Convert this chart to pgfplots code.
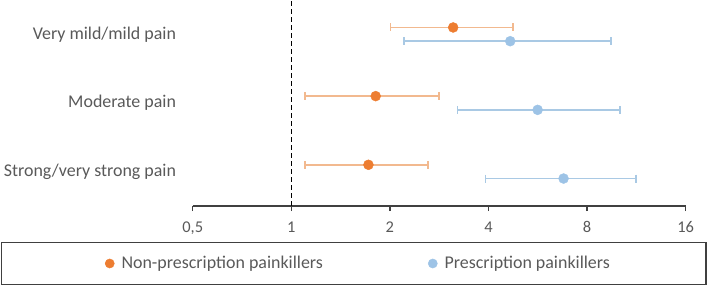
\documentclass[border=0pt]{standalone}
\usepackage{fontspec}
\setmainfont{Carlito}
\usepackage{pgfplots}
\pgfplotsset{compat=1.18}
\definecolor{orgM}{HTML}{ED7D31}
\definecolor{orgE}{HTML}{F2B98F}
\definecolor{bluM}{HTML}{9DC3E6}
\definecolor{bluE}{HTML}{A9C9E4}
\definecolor{txt}{HTML}{595959}
\definecolor{axc}{HTML}{404040}
\begin{document}
\begin{tikzpicture}
\useasboundingbox (0,0) rectangle (708bp,286bp);
\draw[axc, line width=1.3bp] (1.5bp,1.5bp) rectangle (706bp,43.3bp);
\begin{axis}[
  at={(192.7bp,80bp)}, anchor=south west,
  scale only axis, width=493bp, height=206bp,
  xmode=log, log basis x=2,
  xmin=0.5, xmax=16, ymin=0.5, ymax=3.5,
  xtick={0.5,1,2,4,8,16},
  xticklabels={{0,5},1,2,4,8,16},
  ytick={1,2,3},
  yticklabels={Strong/very strong pain, Moderate pain, Very mild/mild pain},
  axis x line*=bottom, axis y line*=left,
  y axis line style={draw=none}, ytick style={draw=none},
  x axis line style={axc, line width=1.3bp, -},
  xtick style={axc, line width=1.3bp},
  xtick align=outside, major tick length=5bp,
  minor tick num=0,
  clip=false,
  tick label style={text=txt},
  xticklabel style={font=\fontsize{16.5}{18}\selectfont, yshift=-7bp},
  yticklabel style={font=\fontsize{18}{20}\selectfont, anchor=east, inner sep=0pt, xshift=-16.5bp},
  legend columns=2,
  legend cell align=left,
  legend style={at={(-0.1845,-0.2791)}, anchor=west, draw=none, fill=none,
    font=\fontsize{18}{20}\selectfont, text=txt, column sep=5bp,
    /tikz/every even column/.append style={column sep=103bp}},
]
% reference line
\addplot[black, line width=1.2bp, dash pattern=on 5bp off 3bp, forget plot] coordinates {(1,0.5) (1,3.5)};
% confidence intervals, non-prescription
\addplot[orgE, line width=1.6bp, mark=|, mark size=4bp, forget plot] coordinates {(2.01,3.1) (4.75,3.1)};
\addplot[orgE, line width=1.6bp, mark=|, mark size=4bp, forget plot] coordinates {(1.10,2.1) (2.82,2.1)};
\addplot[orgE, line width=1.6bp, mark=|, mark size=4bp, forget plot] coordinates {(1.10,1.1) (2.61,1.1)};
% confidence intervals, prescription
\addplot[bluE, line width=1.6bp, mark=|, mark size=4bp, forget plot] coordinates {(2.21,2.9) (9.48,2.9)};
\addplot[bluE, line width=1.6bp, mark=|, mark size=4bp, forget plot] coordinates {(3.22,1.9) (10.1,1.9)};
\addplot[bluE, line width=1.6bp, mark=|, mark size=4bp, forget plot] coordinates {(3.92,0.9) (11.3,0.9)};
% point estimates
\addplot[only marks, mark=*, mark size=5bp, mark options={draw=orgM, fill=orgM}, forget plot] coordinates {(3.12,3.1) (1.81,2.1) (1.72,1.1)};
\addplot[only marks, mark=*, mark size=5bp, mark options={draw=bluM, fill=bluM}, forget plot] coordinates {(4.66,2.9) (5.65,1.9) (6.78,0.9)};
\addlegendimage{legend image code/.code={\fill[orgM] (0bp,0bp) circle (4.6bp);}}
\addlegendentry{Non-prescription painkillers}
\addlegendimage{legend image code/.code={\fill[bluM] (0bp,0bp) circle (4.6bp);}}
\addlegendentry{Prescription painkillers}
\end{axis}
\end{tikzpicture}
\end{document}
